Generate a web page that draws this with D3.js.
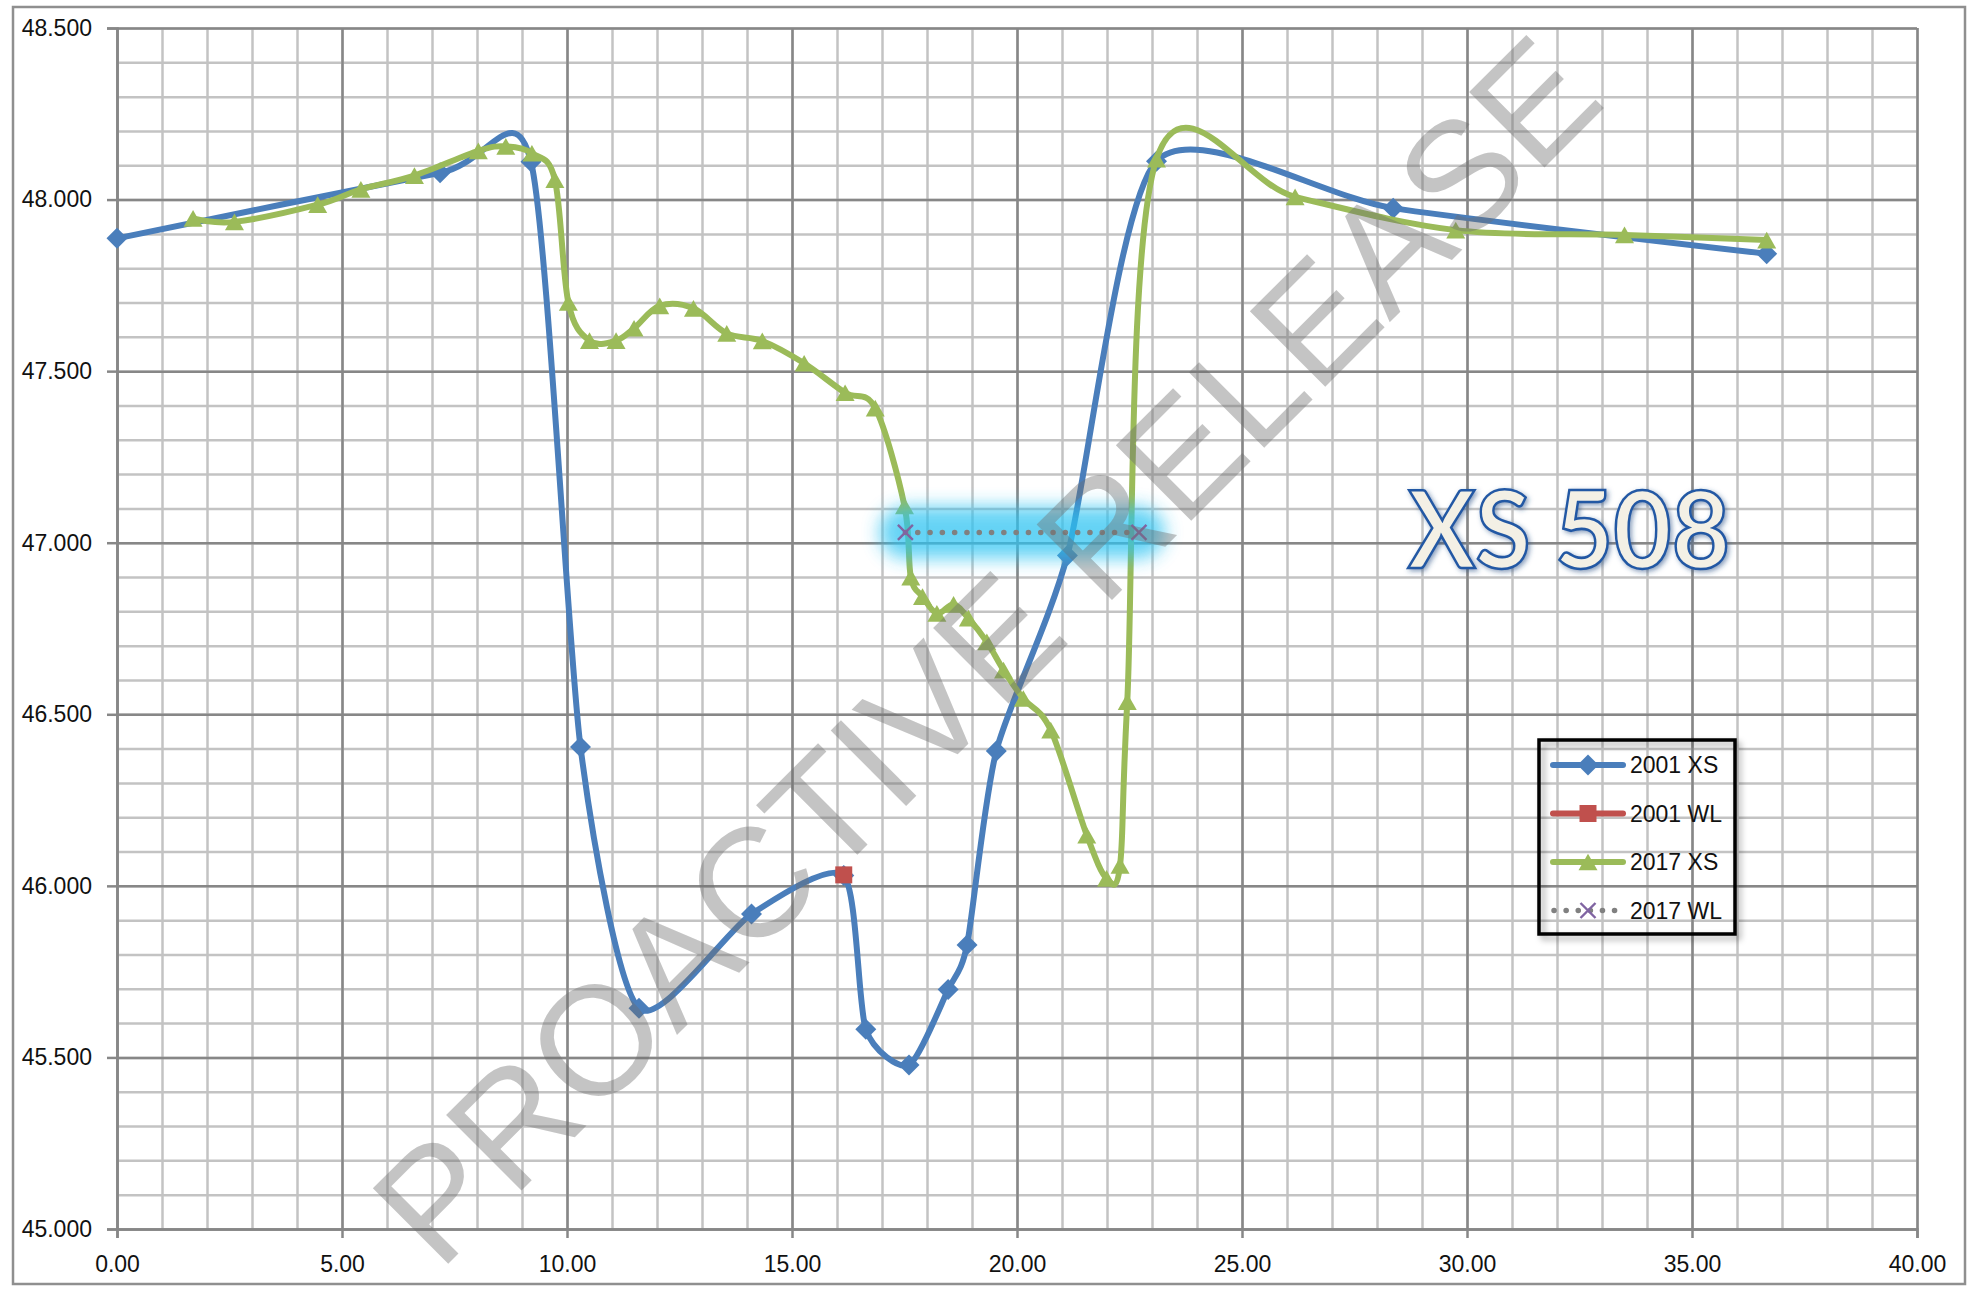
<!DOCTYPE html>
<html><head><meta charset="utf-8">
<script src="https://cdn.jsdelivr.net/npm/d3@7"></script>
<style>body{margin:0;background:#fff;} svg{display:block;}</style>
</head><body>
<svg id="chart" width="1979" height="1296"></svg>
<script>
// ---- data ----
const xs2001X = [0, 7.18, 9.2, 10.3, 11.6, 14.1, 16.15, 16.64, 17.6, 18.47, 18.89, 19.54, 21.12, 23.1, 28.36, 36.66];
const xs2001Y = [47.887, 48.078, 48.11, 46.405, 45.643, 45.918, 46.03, 45.582, 45.478, 45.698, 45.828, 46.393, 46.963, 48.112, 47.975, 47.842];
const wl2001X = [16.15];
const wl2001Y = [46.032];
const xs2017X = [1.69, 2.61, 4.46, 5.42, 6.61, 8.03, 8.64, 9.22, 9.73, 10.03, 10.5, 11.09, 11.49, 12.06, 12.81, 13.55, 14.34, 15.27, 16.18, 16.85, 17.5, 17.64, 17.9, 18.22, 18.59, 18.92, 19.33, 19.7, 20.14, 20.75, 21.55, 21.99, 22.29, 22.45, 23.1, 26.18, 29.75, 33.5, 36.66];
const xs2017Y = [47.945, 47.935, 47.985, 48.03, 48.07, 48.142, 48.155, 48.135, 48.058, 47.70, 47.589, 47.589, 47.625, 47.69, 47.683, 47.61, 47.588, 47.523, 47.437, 47.392, 47.107, 46.90, 46.843, 46.794, 46.82, 46.78, 46.711, 46.629, 46.546, 46.454, 46.148, 46.022, 46.06, 46.537, 48.118, 48.008, 47.911, 47.897, 47.882];
const wl2017X = [17.52, 22.71];
const wl2017Y = [47.03, 47.03];
const seriesNames = ["2001 XS", "2001 WL", "2017 XS", "2017 WL"];
const xMajorTicks = [0, 5, 10, 15, 20, 25, 30, 35, 40];
const yMajorTicks = [45, 45.5, 46, 46.5, 47, 47.5, 48, 48.5];
const chartTitle = "XS 508";
const watermark = "PROACTIVE RELEASE";

// ---- layout ----
const W = 1979, H = 1296;
const L = 117, R = 1917, T = 28, B = 1229;
const svg = d3.select("#chart");
const x = d3.scaleLinear().domain([0, 40]).range([L, R]);
const y = d3.scaleLinear().domain([45, 48.5]).range([B, T]);
const FONT = "'Liberation Sans', Arial, sans-serif";
const C_BLUE = "#4a7ebb", C_RED = "#c0504d", C_GREEN = "#9bbb59", C_PURPLE = "#8064a2";

const defs = svg.append("defs");
const glow = defs.append("filter").attr("id", "glow").attr("filterUnits", "userSpaceOnUse")
  .attr("x", 0).attr("y", 0).attr("width", W).attr("height", H);
glow.append("feGaussianBlur").attr("stdDeviation", 9);
const tsh = defs.append("filter").attr("id", "tshadow").attr("x", "-10%").attr("y", "-20%").attr("width", "120%").attr("height", "150%");
tsh.append("feDropShadow").attr("dx", 2).attr("dy", 2).attr("stdDeviation", 2.5).attr("flood-color", "#2a4f86").attr("flood-opacity", 0.55);
const lsh = defs.append("filter").attr("id", "lshadow").attr("x", "-10%").attr("y", "-10%").attr("width", "130%").attr("height", "130%");
lsh.append("feDropShadow").attr("dx", 4).attr("dy", 4).attr("stdDeviation", 3).attr("flood-color", "#000").attr("flood-opacity", 0.35);

// outer border
svg.append("rect").attr("x", 13).attr("y", 7).attr("width", 1952).attr("height", 1277)
  .attr("fill", "none").attr("stroke", "#8f8f8f").attr("stroke-width", 2.5);

// ---- gridlines ----
const xMinor = d3.range(0, 41, 1);
const yMinor = d3.range(0, 36).map(i => +(45 + i * 0.1).toFixed(1));
function grid(gAxis, color) {
  gAxis.select(".domain").remove();
  gAxis.selectAll("line").attr("stroke", color).attr("stroke-width", 2.5);
  gAxis.selectAll("text").remove();
}
svg.append("g").attr("transform", `translate(0,${B})`)
  .call(d3.axisBottom(x).tickValues(xMinor).tickSize(-(B - T)).tickFormat(""))
  .call(g => grid(g, "#c3c3c3"));
svg.append("g").attr("transform", `translate(${L},0)`)
  .call(d3.axisLeft(y).tickValues(yMinor).tickSize(-(R - L)).tickFormat(""))
  .call(g => grid(g, "#c3c3c3"));
svg.append("g").attr("transform", `translate(0,${B})`)
  .call(d3.axisBottom(x).tickValues(xMajorTicks).tickSize(-(B - T)).tickFormat(""))
  .call(g => grid(g, "#878787"));
svg.append("g").attr("transform", `translate(${L},0)`)
  .call(d3.axisLeft(y).tickValues(yMajorTicks).tickSize(-(R - L)).tickFormat(""))
  .call(g => grid(g, "#878787"));

// ---- axes with labels ----
const xAxis = svg.append("g").attr("transform", `translate(0,${B})`)
  .call(d3.axisBottom(x).tickValues(xMajorTicks).tickSize(9).tickPadding(18).tickFormat(d3.format(".2f")));
const yAxis = svg.append("g").attr("transform", `translate(${L},0)`)
  .call(d3.axisLeft(y).tickValues(yMajorTicks).tickSize(10).tickPadding(15).tickFormat(d3.format(".3f")));
[xAxis, yAxis].forEach(g => {
  g.select(".domain").attr("stroke", "#878787").attr("stroke-width", 2.5);
  g.selectAll(".tick line").attr("stroke", "#878787").attr("stroke-width", 2.5);
  g.selectAll("text").attr("font-family", FONT).attr("font-size", 23).attr("fill", "#111");
});

// ---- marker shapes ----
const diamondType = { draw(ctx, s) { const r = Math.sqrt(s / 2); ctx.moveTo(0, -r); ctx.lineTo(r, 0); ctx.lineTo(0, r); ctx.lineTo(-r, 0); ctx.closePath(); } };
const triType = { draw(ctx, s) { const w = Math.sqrt(s), h = w * 0.88; ctx.moveTo(0, -h / 2); ctx.lineTo(w / 2, h / 2); ctx.lineTo(-w / 2, h / 2); ctx.closePath(); } };
const xType = { draw(ctx, s) { const r = Math.sqrt(s) / 2; ctx.moveTo(-r, -r); ctx.lineTo(r, r); ctx.moveTo(r, -r); ctx.lineTo(-r, r); } };
const symDiamond = d3.symbol().type(diamondType).size(220);
const symSquare = d3.symbol().type(d3.symbolSquare).size(289);
const symTri = d3.symbol().type(triType).size(361);
const symX = d3.symbol().type(xType).size(225);

const lineGen = (curve) => d3.line().x(d => x(d[0])).y(d => y(d[1])).curve(curve);

// 2001 XS
const d2001 = xs2001X.map((v, i) => [v, xs2001Y[i]]);
svg.append("path").datum(d2001).attr("d", lineGen(d3.curveCardinal.tension(0.3)))
  .attr("fill", "none").attr("stroke", C_BLUE).attr("stroke-width", 6).attr("stroke-linejoin", "round");
svg.append("g").selectAll("path").data(d2001).join("path")
  .attr("transform", d => `translate(${x(d[0])},${y(d[1])})`).attr("d", symDiamond).attr("fill", C_BLUE);

// 2001 WL
const w2001 = wl2001X.map((v, i) => [v, wl2001Y[i]]);
svg.append("g").selectAll("path").data(w2001).join("path")
  .attr("transform", d => `translate(${x(d[0])},${y(d[1])})`).attr("d", symSquare).attr("fill", C_RED);

// 2017 XS
const d2017 = xs2017X.map((v, i) => [v, xs2017Y[i]]);
svg.append("path").datum(d2017).attr("d", lineGen(d3.curveCardinal.tension(0)))
  .attr("fill", "none").attr("stroke", C_GREEN).attr("stroke-width", 6).attr("stroke-linejoin", "round");
svg.append("g").selectAll("path").data(d2017).join("path")
  .attr("transform", d => `translate(${x(d[0])},${y(d[1])})`).attr("d", symTri).attr("fill", C_GREEN);

// 2017 WL with glow
const w2017 = wl2017X.map((v, i) => [v, wl2017Y[i]]);
const lin = d3.line().x(d => x(d[0])).y(d => y(d[1]));
svg.append("path").datum(w2017).attr("d", lin)
  .attr("fill", "none").attr("stroke", "#2cc3f2").attr("stroke-width", 52).attr("stroke-linecap", "round")
  .attr("opacity", 0.72).attr("filter", "url(#glow)");
svg.append("path").datum(w2017).attr("d", lin)
  .attr("fill", "none").attr("stroke", "#808080").attr("stroke-width", 5.5)
  .attr("stroke-linecap", "round").attr("stroke-dasharray", "0.1 12.2");
svg.append("g").selectAll("path").data(w2017).join("path")
  .attr("transform", d => `translate(${x(d[0])},${y(d[1])})`).attr("d", symX)
  .attr("fill", "none").attr("stroke", C_PURPLE).attr("stroke-width", 2.4);

// ---- title ----
svg.append("text").attr("x", 1408).attr("y", 568).text(chartTitle)
  .attr("font-family", "Lato, 'Open Sans', sans-serif").attr("font-weight", 700).attr("font-size", 108)
  .attr("textLength", 322).attr("lengthAdjust", "spacingAndGlyphs")
  .attr("fill", "#f3f0e5").attr("stroke", "#2458a4").attr("stroke-width", 2.6)
  .attr("filter", "url(#tshadow)");

// ---- legend ----
const lg = svg.append("g");
lg.append("rect").attr("x", 1539).attr("y", 740).attr("width", 196).attr("height", 194)
  .attr("fill", "none").attr("stroke", "#000").attr("stroke-width", 3.5).attr("filter", "url(#lshadow)");
const legendColors = [C_BLUE, C_RED, C_GREEN, "#808080"];
const legendSyms = [symDiamond, symSquare, symTri, symX];
seriesNames.forEach((name, i) => {
  const cy = 765 + i * 48.5;
  if (i < 3) {
    lg.append("line").attr("x1", 1553).attr("x2", 1623).attr("y1", cy).attr("y2", cy)
      .attr("stroke", legendColors[i]).attr("stroke-width", 6).attr("stroke-linecap", "round");
    lg.append("path").attr("transform", `translate(1588,${cy})`).attr("d", legendSyms[i]).attr("fill", legendColors[i]);
  } else {
    lg.append("line").attr("x1", 1554).attr("x2", 1626).attr("y1", cy).attr("y2", cy)
      .attr("stroke", "#808080").attr("stroke-width", 5.5).attr("stroke-linecap", "round").attr("stroke-dasharray", "0.1 12");
    lg.append("path").attr("transform", `translate(1588,${cy})`).attr("d", symX)
      .attr("fill", "none").attr("stroke", C_PURPLE).attr("stroke-width", 2.4);
  }
  lg.append("text").attr("x", 1630).attr("y", cy + 8).text(name)
    .attr("font-family", FONT).attr("font-size", 23).attr("fill", "#111");
});

// ---- watermark ----
svg.append("text").text(watermark)
  .attr("transform", "translate(1024,688) rotate(-45)")
  .attr("text-anchor", "middle")
  .attr("font-family", FONT).attr("font-size", 155)
  .attr("fill", "#6e6e6e").attr("opacity", 0.4);
</script>
</body></html>
